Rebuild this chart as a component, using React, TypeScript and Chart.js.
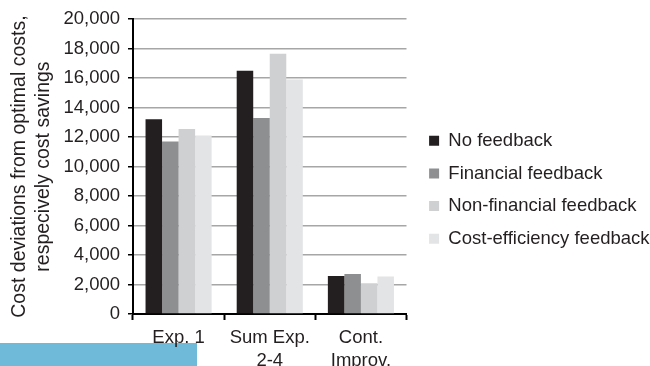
import React, { useEffect, useRef } from "react";
import { Chart, registerables } from "chart.js";

Chart.register(...registerables);

const categories: string[][] = [["Exp. 1"], ["Sum Exp.", "2-4"], ["Cont.", "Improv."]];
const seriesNames = ["No feedback", "Financial feedback", "Non-financial feedback", "Cost-efficiency feedback"];
const noFeedback = [13200, 16500, 2580];
const financialFeedback = [11700, 13300, 2710];
const nonFinancialFeedback = [12550, 17650, 2080];
const costEfficiencyFeedback = [12100, 15900, 2550];
const seriesColors = ["#231f20", "#8e8f91", "#cfd0d2", "#e3e4e6"];
const yTitle = ["Cost deviations from optimal costs,", "respecively cost savings"];

const FONT = "'Liberation Sans', Arial, Helvetica, sans-serif";
const TEXT = "#231f20";
const LEGEND_WIDTH = 235;

const legendWidthPlugin = {
  id: "legendWidth",
  beforeLayout(chart: any) {
    const lg = chart.legend;
    if (lg && !lg.__patched) {
      const orig = lg.fit.bind(lg);
      lg.fit = function () {
        orig();
        this.width = LEGEND_WIDTH;
      };
      lg.__patched = true;
    }
  },
  afterLayout(chart: any) {
    const lg = chart.legend;
    if (lg) {
      lg.bottom = lg.bottom - 5.5;
      lg.height = lg.bottom - lg.top;
    }
  },
};

export default function App() {
  const ref = useRef<HTMLCanvasElement>(null);
  useEffect(() => {
    if (!ref.current) return;
    const values = [noFeedback, financialFeedback, nonFinancialFeedback, costEfficiencyFeedback];
    const chart = new Chart(ref.current, {
      type: "bar",
      data: {
        labels: categories,
        datasets: values.map((v, i) => ({
          label: seriesNames[i],
          data: v,
          backgroundColor: seriesColors[i],
          borderWidth: 0,
          categoryPercentage: 0.725,
          barPercentage: 1.0,
        })),
      },
      plugins: [legendWidthPlugin],
      options: {
        responsive: false,
        animation: false,
        layout: { padding: { top: 19, bottom: 0, left: 0, right: 0 } },
        plugins: {
          tooltip: { enabled: false },
          legend: {
            position: "right",
            align: "center",
            labels: {
              boxWidth: 10,
              boxHeight: 10,
              padding: 14.1,
              color: TEXT,
              font: { family: FONT, size: 18.5 },
            },
          },
        },
        scales: {
          x: {
            offset: true,
            grid: {
              display: true,
              offset: true,
              drawOnChartArea: false,
              drawTicks: true,
              tickLength: 6,
              tickColor: "#000",
              tickWidth: 2,
            },
            border: { display: true, color: "#000", width: 2 },
            ticks: {
              color: TEXT,
              padding: 6,
              font: { family: FONT, size: 18.5, lineHeight: 1.25 },
              maxRotation: 0,
              autoSkip: false,
            },
            afterFit: (s: any) => {
              s.height = 52;
            },
          },
          y: {
            min: 0,
            max: 20000,
            ticks: {
              stepSize: 2000,
              color: TEXT,
              padding: 8,
              font: { family: FONT, size: 18.5 },
              callback: (v: any) => Number(v).toLocaleString("en-US"),
            },
            grid: {
              color: "#a6a6a6",
              lineWidth: 1.5,
              tickLength: 5,
              tickColor: "#000",
              tickWidth: 1.5,
            },
            border: { display: true, color: "#000", width: 2 },
            title: {
              display: true,
              text: yTitle,
              color: TEXT,
              padding: { top: 7.5, bottom: 0 },
              font: { family: FONT, size: 19.5, lineHeight: 1.24 },
            },
            afterFit: (s: any) => {
              s.width = 133;
            },
          },
          spacer: {
            type: "linear",
            position: "right",
            display: true,
            grid: { display: false, drawTicks: false },
            ticks: { display: false },
            border: { display: false },
            afterFit: (s: any) => {
              s.width = 8.5;
            },
          },
        },
      } as any,
    });
    return () => chart.destroy();
  }, []);

  return (
    <div
      style={{
        position: "fixed",
        left: 0,
        top: 0,
        width: 650,
        height: 366,
        overflow: "hidden",
        background: "#ffffff",
      }}
    >
      <div
        style={{
          position: "absolute",
          left: 0,
          top: 343,
          width: 197,
          height: 30,
          background: "#6fbad9",
        }}
      />
      <canvas
        ref={ref}
        width={650}
        height={366}
        style={{ position: "absolute", left: 0, top: 0, width: 650, height: 366 }}
      />
    </div>
  );
}
